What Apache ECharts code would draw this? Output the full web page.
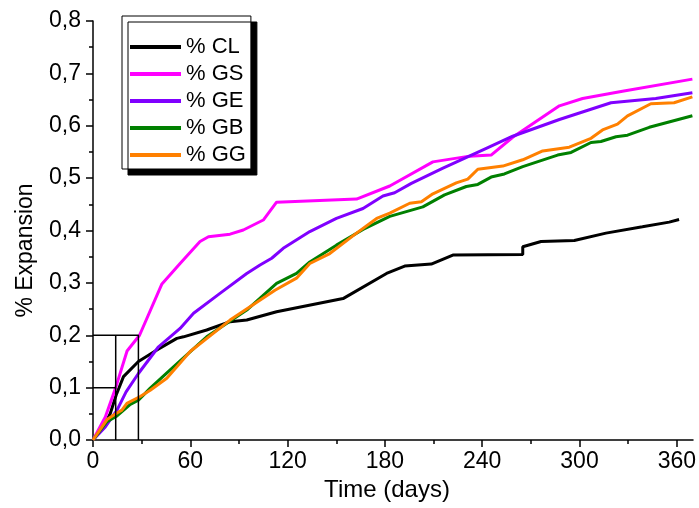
<!DOCTYPE html>
<html>
<head>
<meta charset="utf-8">
<script src="https://cdn.jsdelivr.net/npm/echarts@6/dist/echarts.min.js"></script>
<style>html,body{margin:0;padding:0;background:#fff}#c{width:699px;height:508px}</style>
</head>
<body>
<div id="c"></div>
<script>
const seriesNames = ['% CL', '% GS', '% GE', '% GB', '% GG'];
const seriesColors = ['#000000', '#ff00ff', '#8000ff', '#008000', '#ff8000'];

const clDays = [0, 7.6, 10.6, 14.3, 18.8, 28, 39.4, 51.7, 55.8, 70.1, 84.5, 94.8, 113.2, 154.2, 181, 192.2, 208.6, 221.9, 265, 265, 276.3, 296.8, 316.3, 338.8, 355.3, 361.4];
const clVals = [0, 0.032, 0.05, 0.086, 0.121, 0.150, 0.172, 0.194, 0.197, 0.210, 0.226, 0.229, 0.245, 0.270, 0.318, 0.332, 0.336, 0.353, 0.354, 0.369, 0.379, 0.381, 0.395, 0.407, 0.416, 0.421];

const gsDays = [0, 7.6, 14, 21, 28.7, 42.5, 53.7, 66, 71.2, 84.5, 92.7, 105, 113.2, 162.5, 183, 209.6, 232.2, 245.5, 258.8, 273.2, 287.6, 301.9, 326.5, 369.6];
const gsVals = [0, 0.044, 0.10, 0.17, 0.200, 0.298, 0.337, 0.379, 0.388, 0.393, 0.401, 0.42, 0.454, 0.460, 0.485, 0.531, 0.542, 0.544, 0.578, 0.608, 0.638, 0.652, 0.666, 0.689];

const geDays = [0, 7.6, 14.8, 20.4, 28, 40.4, 53.7, 62, 78.3, 94.8, 103, 110.2, 117.3, 133.7, 150.1, 166.5, 178.8, 186, 196.3, 215.8, 242.5, 258.8, 287.6, 319.4, 347, 369.6];
const geVals = [0, 0.025, 0.057, 0.092, 0.127, 0.178, 0.213, 0.242, 0.28, 0.318, 0.334, 0.347, 0.366, 0.398, 0.423, 0.442, 0.466, 0.472, 0.490, 0.519, 0.557, 0.580, 0.612, 0.644, 0.652, 0.663];

const gbDays = [0, 8.6, 14.8, 23, 28, 35.3, 47.6, 70.1, 94.8, 113.2, 125.5, 133.7, 150.1, 166.5, 183, 203.4, 216.8, 230.2, 237.3, 245.5, 253.7, 265, 286.5, 294.8, 307.1, 313.2, 322.5, 329.6, 343, 369.6];
const gbVals = [0, 0.035, 0.046, 0.068, 0.076, 0.099, 0.134, 0.197, 0.248, 0.299, 0.318, 0.340, 0.372, 0.402, 0.427, 0.445, 0.468, 0.484, 0.488, 0.502, 0.508, 0.522, 0.544, 0.549, 0.568, 0.570, 0.579, 0.582, 0.597, 0.619];

const ggDays = [0, 8.6, 14, 17.8, 20.9, 29.1, 35.3, 45.5, 59.9, 84.5, 112.2, 125.5, 133.7, 146, 162.5, 174.9, 183, 195.3, 202.5, 209.6, 224, 231.1, 237.3, 252.7, 265, 277.3, 293.7, 307.1, 314.2, 323.4, 329.6, 344, 358.3, 369.6];
const ggVals = [0, 0.039, 0.05, 0.057, 0.070, 0.083, 0.095, 0.118, 0.169, 0.229, 0.286, 0.309, 0.337, 0.356, 0.395, 0.423, 0.433, 0.452, 0.455, 0.470, 0.491, 0.498, 0.517, 0.523, 0.535, 0.552, 0.559, 0.576, 0.592, 0.603, 0.619, 0.642, 0.644, 0.655];

// reference guide boxes (days, value)
const guideA = [[0, 0.2], [28, 0.2], [28, 0]];
const guideB = [[0, 0.1], [14, 0.1]];
const guideC = [[14, 0], [14, 0.2]];

const xTicks = [0, 60, 120, 180, 240, 300, 360];
const xMinorTicks = [30, 90, 150, 210, 270, 330];
const yTickLabels = ['0,0', '0,1', '0,2', '0,3', '0,4', '0,5', '0,6', '0,7', '0,8'];

const FONT = 'Liberation Sans, Arial, sans-serif';
const pair = (d, v) => d.map((x, i) => [x, v[i]]);
const allDays = [clDays, gsDays, geDays, gbDays, ggDays];
const allVals = [clVals, gsVals, geVals, gbVals, ggVals];

const chart = echarts.init(document.getElementById('c'), null, {renderer: 'canvas'});

const series = seriesNames.map((n, i) => ({
  name: n, type: 'line', xAxisIndex: 0, data: pair(allDays[i], allVals[i]),
  showSymbol: false, symbol: 'none', smooth: false,
  lineStyle: {color: seriesColors[i], width: 3},
  itemStyle: {color: seriesColors[i]}, z: 3 + i
}));
[guideA, guideB, guideC].forEach((g, i) => series.push({
  name: 'guide' + i, type: 'line', data: g, showSymbol: false, symbol: 'none',
  lineStyle: {color: '#000', width: 1.5}, z: 10, silent: true
}));

chart.setOption({
  animation: false,
  backgroundColor: '#fff',
  grid: {left: 93, right: 5, top: 21, bottom: 68, containLabel: false},
  legend: {
    data: seriesNames, orient: 'vertical', left: 122, top: 16,
    padding: [20, 5, 3, 8], itemWidth: 51, itemHeight: 4, itemGap: 5, itemTextGap: 6,
    icon: 'rect',
    textStyle: {fontSize: 22, lineHeight: 22, color: '#000', fontFamily: FONT},
    backgroundColor: '#fff', borderColor: '#000', borderWidth: 1,
    shadowColor: '#000', shadowBlur: 0, shadowOffsetX: 6, shadowOffsetY: 6
  },
  xAxis: [{
    type: 'value', min: 0, max: 370, interval: 60,
    name: 'Time (days)', nameLocation: 'middle', nameGap: 36,
    nameTextStyle: {fontSize: 24, color: '#000', fontFamily: FONT, padding: [0, 12, 0, 0]},
    axisLine: {show: true, onZero: false, lineStyle: {color: '#000', width: 1.5}},
    axisTick: {show: true, inside: false, length: 7, lineStyle: {color: '#000', width: 1.5}, customValues: xTicks},
    axisLabel: {show: true, fontSize: 23, color: '#000', fontFamily: FONT, margin: 10, customValues: xTicks},
    splitLine: {show: false}
  }, {
    type: 'value', min: 0, max: 370, position: 'bottom',
    axisLine: {show: false},
    axisTick: {show: true, inside: false, length: 4, lineStyle: {color: '#000', width: 1.5}, customValues: xMinorTicks},
    axisLabel: {show: false}, splitLine: {show: false}
  }],
  yAxis: {
    type: 'value', min: 0, max: 0.8, interval: 0.1,
    name: '% Expansion', nameLocation: 'middle', nameGap: 56,
    nameTextStyle: {fontSize: 23, color: '#000', fontFamily: FONT, padding: [0, 40, 0, 0]},
    axisLine: {show: true, onZero: false, lineStyle: {color: '#000', width: 1.5}},
    axisTick: {show: true, inside: false, length: 7, lineStyle: {color: '#000', width: 1.5}},
    minorTick: {show: true, splitNumber: 2, length: 4, lineStyle: {color: '#000', width: 1.5}},
    axisLabel: {fontSize: 23, color: '#000', fontFamily: FONT, margin: 12,
      formatter: v => yTickLabels[Math.round(v * 10)]},
    splitLine: {show: false}, minorSplitLine: {show: false}
  },
  series: series
});
</script>
</body>
</html>
